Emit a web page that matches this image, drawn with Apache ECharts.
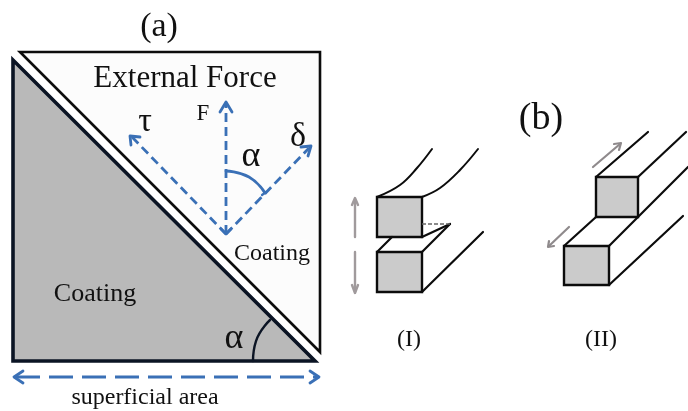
<!DOCTYPE html>
<html><head><meta charset="utf-8">
<script src="https://cdn.jsdelivr.net/npm/echarts@6/dist/echarts.min.js"></script>
<style>html,body{margin:0;background:#fff}#c{width:688px;height:411px}</style></head>
<body><div id="c"></div>
<script>
// Diagram geometry, in the hidden axes' units
const lowerTriangle = [[13,60],[13,361],[315,361]];
const upperTriangle = [[20,52],[320,52],[320,352]];
const squaresI = [[[377,197],[422,197],[422,237],[377,237]], [[377,252],[422,252],[422,292],[377,292]]];
const squaresII = [[[596,177],[638,177],[638,217],[596,217]], [[564,246],[609,246],[609,285],[564,285]]];

const blueShafts = [[[226,234],[226,104]], [[226,234],[132,137]], [[226,234],[309,148]]];
const blueHeads = [[[220,112],[226,102],[232,112]], [[131,145],[130,136],[140,137]], [[301,147],[311,146],[308,156]], [[221,229],[226,234],[231,229]]];
const areaShaft = [[16,377],[317,377]];
const areaHeads = [[[23,371],[14,377],[23,383]], [[310,371],[319,377],[310,383]]];
const blueArc = [[226,171],[249,177],[265,193]];
const blueArcTick = [[262,195],[266,192]];
const blackArc = [[253,361],[256,341],[270,320]];

const curvesI = [[[377,197],[400,185],[417,168],[432,149]], [[422,197],[440,188],[460,170],[478,149]]];
const edgesI = [[[422,237],[450,224]], [[422,252],[450,224]], [[377,252],[392,237]], [[422,292],[483,232]]];
const crackDash = [[422,224],[450,224]];
const greyArrowsI = [[[355,237],[355,200]], [[352,205],[355,198],[358,205]], [[355,252],[355,292]], [[352,285],[355,293],[358,285]]];

const edgesII = [[[596,177],[648,132]], [[638,177],[686,132]], [[638,217],[688,167]], [[596,217],[564,246]], [[609,246],[638,217]], [[609,285],[683,216]]];
const greyArrowsII = [[[593,167],[620,144]], [[614,144],[621,143],[619,150]], [[569,227],[549,246]], [[549,241],[548,247],[554,246]]];

const labelTexts = ['(a)','External Force','F','τ','δ','α','Coating','Coating','α','superficial area','(b)','(I)','(II)'];
const labelAnchors = [[159,27],[185,79],[203,114],[145,122],[298,137],[251,157],[272,254],[95,294],[234,339],[145,398],[541,119],[409,340],[601,340]];
const labelSizes = [34,31,23,34,34,36,24,26,36,24,38,24,24];

const BLUE = '#3a70b6', INK = '#0b1424', BLACK = '#0c0c0c', GREY = '#8f8a8c';

function lineSeries(points, color, width, extra) {
  return Object.assign({
    type: 'line', data: points, symbol: 'none', silent: true, clip: false, animation: false,
    lineStyle: {color, width, cap: 'round', join: 'round'}
  }, extra || {});
}
function dashed(points, color, width, dash) {
  const s = lineSeries(points, color, width);
  s.lineStyle.type = dash; s.lineStyle.cap = 'butt';
  return s;
}
function polygonSeries(points, fill, stroke, width) {
  return {
    type: 'custom', coordinateSystem: 'cartesian2d', data: [points[0]], silent: true, clip: false, animation: false,
    renderItem: (p, api) => ({
      type: 'polygon',
      shape: {points: points.map(q => api.coord(q))},
      style: {fill, stroke, lineWidth: width, lineJoin: 'miter'}
    })
  };
}

const series = [
  polygonSeries(lowerTriangle, '#b9b9b9', INK, 3.6),
  polygonSeries(upperTriangle, '#fcfcfc', BLACK, 2.6),
  lineSeries(blackArc, INK, 2.4, {smooth: 0.5}),
  ...blueShafts.map(l => dashed(l, BLUE, 2.8, [9, 5])),
  ...blueHeads.map(l => lineSeries(l, BLUE, 2.8)),
  dashed(areaShaft, BLUE, 2.8, [24, 9]),
  ...areaHeads.map(l => lineSeries(l, BLUE, 2.8)),
  lineSeries(blueArc, BLUE, 2.8, {smooth: 0.5}),
  lineSeries(blueArcTick, BLUE, 2.2),
  ...squaresI.concat(squaresII).map(q => polygonSeries(q, '#cbcbcb', BLACK, 2.4)),
  ...curvesI.map(l => lineSeries(l, BLACK, 2, {smooth: 0.4})),
  ...edgesI.map(l => lineSeries(l, BLACK, 2.2)),
  dashed(crackDash, '#666666', 1.4, [4, 2]),
  ...greyArrowsI.map(l => lineSeries(l, '#a09a9c', 2.4)),
  ...edgesII.map(l => lineSeries(l, BLACK, 2.2)),
  ...greyArrowsII.map(l => lineSeries(l, GREY, 2.2)),
  {
    type: 'scatter', symbolSize: 0, silent: true, clip: false, animation: false,
    itemStyle: {opacity: 1},
    data: labelTexts.map((t, i) => ({
      value: labelAnchors[i],
      label: {
        show: true, position: 'inside', formatter: t, color: '#111111', opacity: 1,
        fontFamily: 'Liberation Serif', fontSize: labelSizes[i], align: 'center', verticalAlign: 'middle'
      }
    }))
  }
];

const chart = echarts.init(document.getElementById('c'), null, {renderer: 'canvas'});
chart.setOption({
  backgroundColor: '#ffffff',
  animation: false,
  grid: {left: 0, right: 0, top: 0, bottom: 0},
  xAxis: {type: 'value', min: 0, max: 688, show: false},
  yAxis: {type: 'value', min: 0, max: 411, inverse: true, show: false},
  series
});
</script></body></html>
